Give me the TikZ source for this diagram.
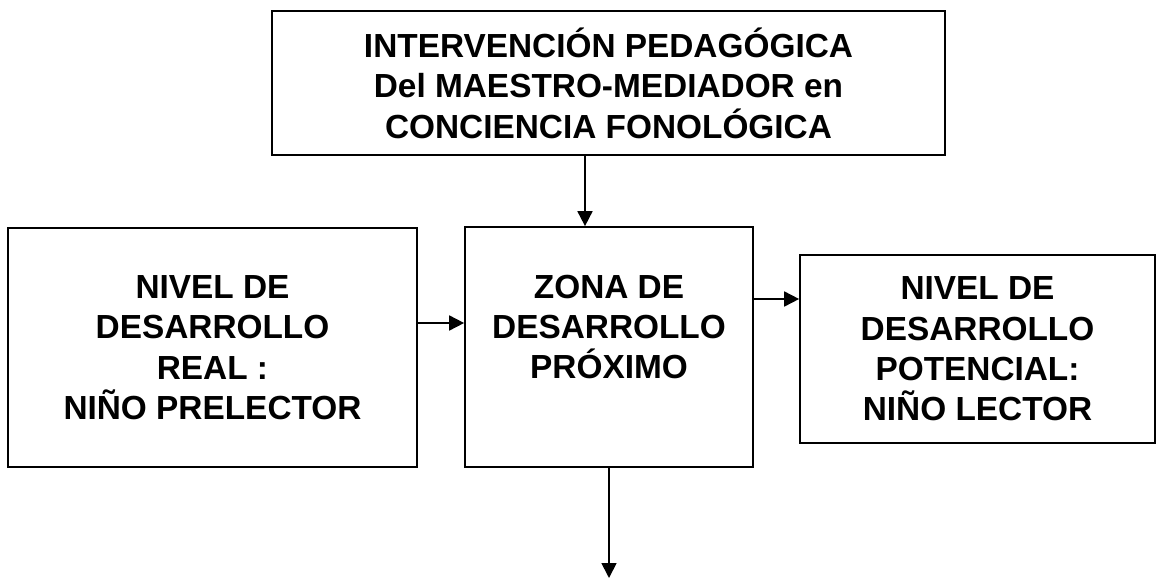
\documentclass[tikz,border=0pt]{standalone}
\usepackage{fontspec}
\setmainfont{Liberation Sans}
\usetikzlibrary{arrows.meta,positioning}

\begin{document}
\begin{tikzpicture}[x=0.02cm,y=-0.02cm,
    box/.style={draw,line width=1pt,align=center,inner sep=0pt,
        font=\bfseries\fontsize{19}{23}\selectfont},
    link/.style={line width=1pt,-{Triangle[length=0.3cm,width=0.3cm]}}]
    \useasboundingbox (0,0) rectangle (1156,578);
    % boxes
    \node[box,minimum width=13.46cm,minimum height=2.88cm] (mediador) at (608.5,83)
        {INTERVENCIÓN PEDAGÓGICA\\ Del MAESTRO-MEDIADOR en\\ CONCIENCIA FONOLÓGICA};
    \node[box,minimum width=8.18cm,minimum height=4.78cm] (real) at (212.5,347.5)
        {NIVEL DE\\ DESARROLLO\\ REAL :\\ NIÑO PRELECTOR};
    \node[box,minimum width=5.76cm,minimum height=4.8cm] (proximo) at (609,347)
        {ZONA DE\\ DESARROLLO\\ PRÓXIMO\\ \mbox{}};
    \node[box,minimum width=7.1cm,minimum height=3.76cm] (potencial) at (977.5,349)
        {NIVEL DE\\ DESARROLLO\\ POTENCIAL:\\ NIÑO LECTOR};
    % arrows
    \coordinate (bajada) at (585,0);
    \coordinate (izq) at (0,323);
    \coordinate (der) at (0,299);
    \coordinate (salida) at (609,578);
    \draw[link] (mediador.south -| bajada) -- (proximo.north -| bajada);
    \draw[link] (real.east |- izq) -- (proximo.west |- izq);
    \draw[link] (proximo.east |- der) -- (potencial.west |- der);
    \draw[link] (proximo.south) -- (salida);
\end{tikzpicture}
\end{document}
